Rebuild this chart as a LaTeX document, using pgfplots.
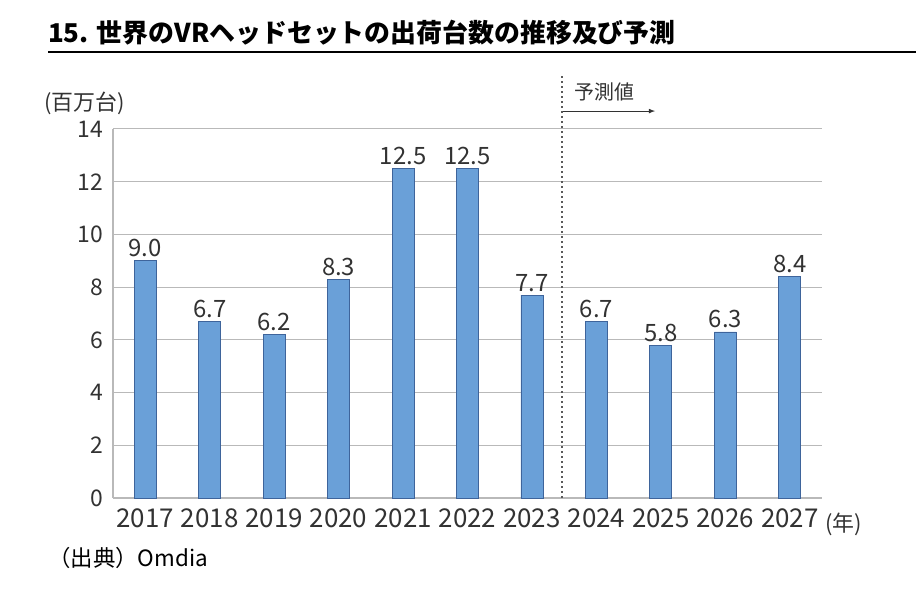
\documentclass[border=0pt]{standalone}
\usepackage{fontspec}
\setmainfont{Noto Sans CJK JP}
\usepackage{pgfplots}
\pgfplotsset{compat=1.18}
\definecolor{barfill}{RGB}{106,160,216}
\definecolor{barline}{RGB}{62,100,155}
\definecolor{txt}{RGB}{50,50,50}
\definecolor{gridc}{RGB}{185,185,185}
\begin{document}
\begin{tikzpicture}[x=1bp,y=1bp]
\path[use as bounding box] (0,0) rectangle (916,594);
\node[anchor=base west, inner sep=0pt, font=\fontsize{26}{30}\selectfont\bfseries] at (48,551) {15. 世界のVRヘッドセットの出荷台数の推移及び予測};
\draw[line width=2.2bp] (48,542) -- (916,542);
\node[anchor=west, inner sep=0pt, text=txt, font=\fontsize{22}{26}\selectfont] at (44,491) {(百万台)};
\node[anchor=west, inner sep=0pt, font=\fontsize{22.5}{26}\selectfont] at (48,36) {（出典）Omdia};
\begin{axis}[
  at={(113bp,96bp)}, anchor=south west,
  scale only axis, width=709bp, height=369bp,
  xmin=-0.5, xmax=10.5, ymin=0, ymax=14,
  enlargelimits=false, clip=false,
  ybar, bar width=22bp,
  axis x line=bottom, axis y line=left,
  axis line style={-, draw=gridc, line width=1.3bp},
  xtick={0,...,10},
  xticklabels={2017,2018,2019,2020,2021,2022,2023,2024,2025,2026,2027},
  ytick={0,2,...,14},
  ymajorgrids, grid style={gridc, line width=1bp},
  major tick length=0pt,
  /pgf/number format/assume math mode=true,
  xticklabel style={font=\fontsize{26}{29}\selectfont, text=txt, inner sep=0pt, yshift=-10bp},
  yticklabel style={font=\fontsize{23}{27}\selectfont, text=txt, inner sep=0pt, xshift=-10bp},
  nodes near coords,
  nodes near coords style={font=\fontsize{24}{28}\selectfont, text=txt, /pgf/number format/.cd, fixed, fixed zerofill, precision=1, assume math mode=true},
]
\addplot[fill=barfill, draw=barline, line width=0.8bp] coordinates {
(0,9.0) (1,6.7) (2,6.2) (3,8.3) (4,12.5) (5,12.5) (6,7.7) (7,6.7) (8,5.8) (9,6.3) (10,8.4)};
\draw[dash pattern=on 1.6bp off 3.4bp, line width=2bp, draw=gray!70!black] (axis cs:6.46,0) -- (axis cs:6.46,16.05);
\draw[-latex, line width=1.1bp, draw=txt] (axis cs:6.48,14.68) -- (axis cs:7.91,14.68);
\node[text=txt, font=\fontsize{20}{24}\selectfont, inner sep=0pt] at (axis cs:7.13,15.4) {予測値};
\node[anchor=west, text=txt, font=\fontsize{22}{26}\selectfont, inner sep=0pt] at (axis cs:10.55,-1.0) {(年)};
\end{axis}
\end{tikzpicture}
\end{document}
